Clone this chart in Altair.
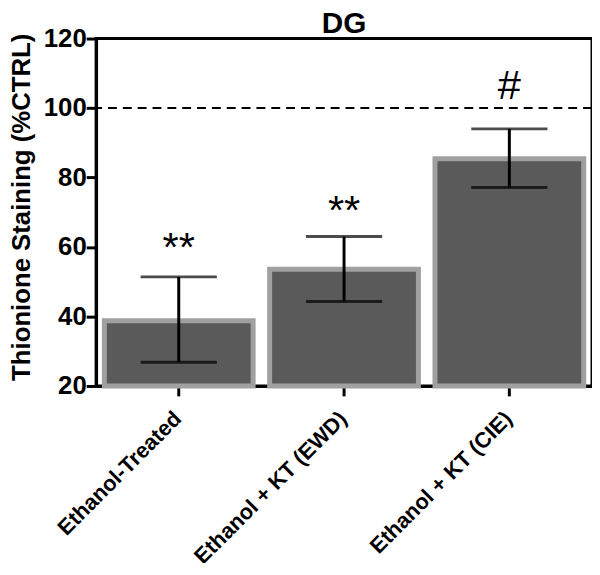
import altair as alt
import pandas as pd

groups = ["Ethanol-Treated", "Ethanol + KT (EWD)", "Ethanol + KT (CIE)"]
means = [38.8, 53.6, 85.4]
err_low = [26.8, 44.3, 77.1]
err_high = [51.4, 63.0, 94.0]
sig_labels = ["**", "**", "#"]
sig_y = [56.0, 66.5, 102.6]
ref_value = 100
y_ticks = [20, 40, 60, 80, 100, 120]

df = pd.DataFrame({
    "group": groups,
    "mean": means,
    "lo": err_low,
    "hi": err_high,
    "sig": sig_labels,
    "sig_y": sig_y,
})

FONT = "Liberation Sans"

xenc = alt.X(
    "group:N",
    sort=groups,
    scale=alt.Scale(paddingInner=0.1, paddingOuter=0.05),
    axis=alt.Axis(title=None, labelAngle=-45, labelAlign="right", labelBaseline="top",
                  labelFontSize=22, labelPadding=12, labelOffset=-8, labelLimit=400),
)
yscale = alt.Scale(domain=[20, 120], nice=False)
yaxis = alt.Axis(values=y_ticks, grid=False, title="Thionione Staining (%CTRL)",
                 titleFontSize=26, titleFontWeight="bold", titleFont=FONT, titleColor="black",
                 titleBaseline="alphabetic", titleAlign="center", titleX=-67, titleY=170,
                 labelFontSize=26, labelPadding=0)

base = alt.Chart(df)

bars = base.mark_bar(fill="#5a5a5a", stroke="#a0a0a0", strokeWidth=5).encode(
    x=xenc,
    y=alt.Y("mean:Q", scale=yscale, axis=yaxis),
    y2=alt.datum(20),
)

err = base.mark_rule(color="black", strokeWidth=3).encode(
    x=alt.X("group:N", sort=groups),
    y=alt.Y("lo:Q"),
    y2="hi:Q",
)
cap_lo = base.mark_tick(color="black", thickness=3, size=77).encode(
    x=alt.X("group:N", sort=groups), y=alt.Y("lo:Q"))
cap_hi = base.mark_tick(color="black", thickness=3, size=77).encode(
    x=alt.X("group:N", sort=groups), y=alt.Y("hi:Q"))

ref = alt.Chart(pd.DataFrame({"ref": [ref_value]})).mark_rule(
    color="black", strokeWidth=2, strokeDash=[9, 6]).encode(y="ref:Q")

sig = base.mark_text(font=FONT, fontSize=42, color="black", baseline="alphabetic").encode(
    x=alt.X("group:N", sort=groups),
    y=alt.Y("sig_y:Q"),
    text="sig:N",
)

chart = alt.layer(bars, ref, err, cap_lo, cap_hi, sig).properties(
    width=501,
    height=351,
    title=alt.TitleParams("DG", fontSize=30, fontWeight="bold", font=FONT, color="black",
                          offset=4, dy=17),
    autosize=alt.AutoSizeParams(type="none"),
    padding={"left": 89, "top": 28, "right": 0, "bottom": 176},
).configure_view(stroke="black", strokeWidth=3).configure_axis(
    domainColor="black", domainWidth=3, tickColor="black", tickWidth=3, tickSize=10,
    labelFont=FONT, labelFontWeight="bold", labelColor="black",
)

chart.save("out.html", embed_options={"renderer": "svg", "actions": False})
